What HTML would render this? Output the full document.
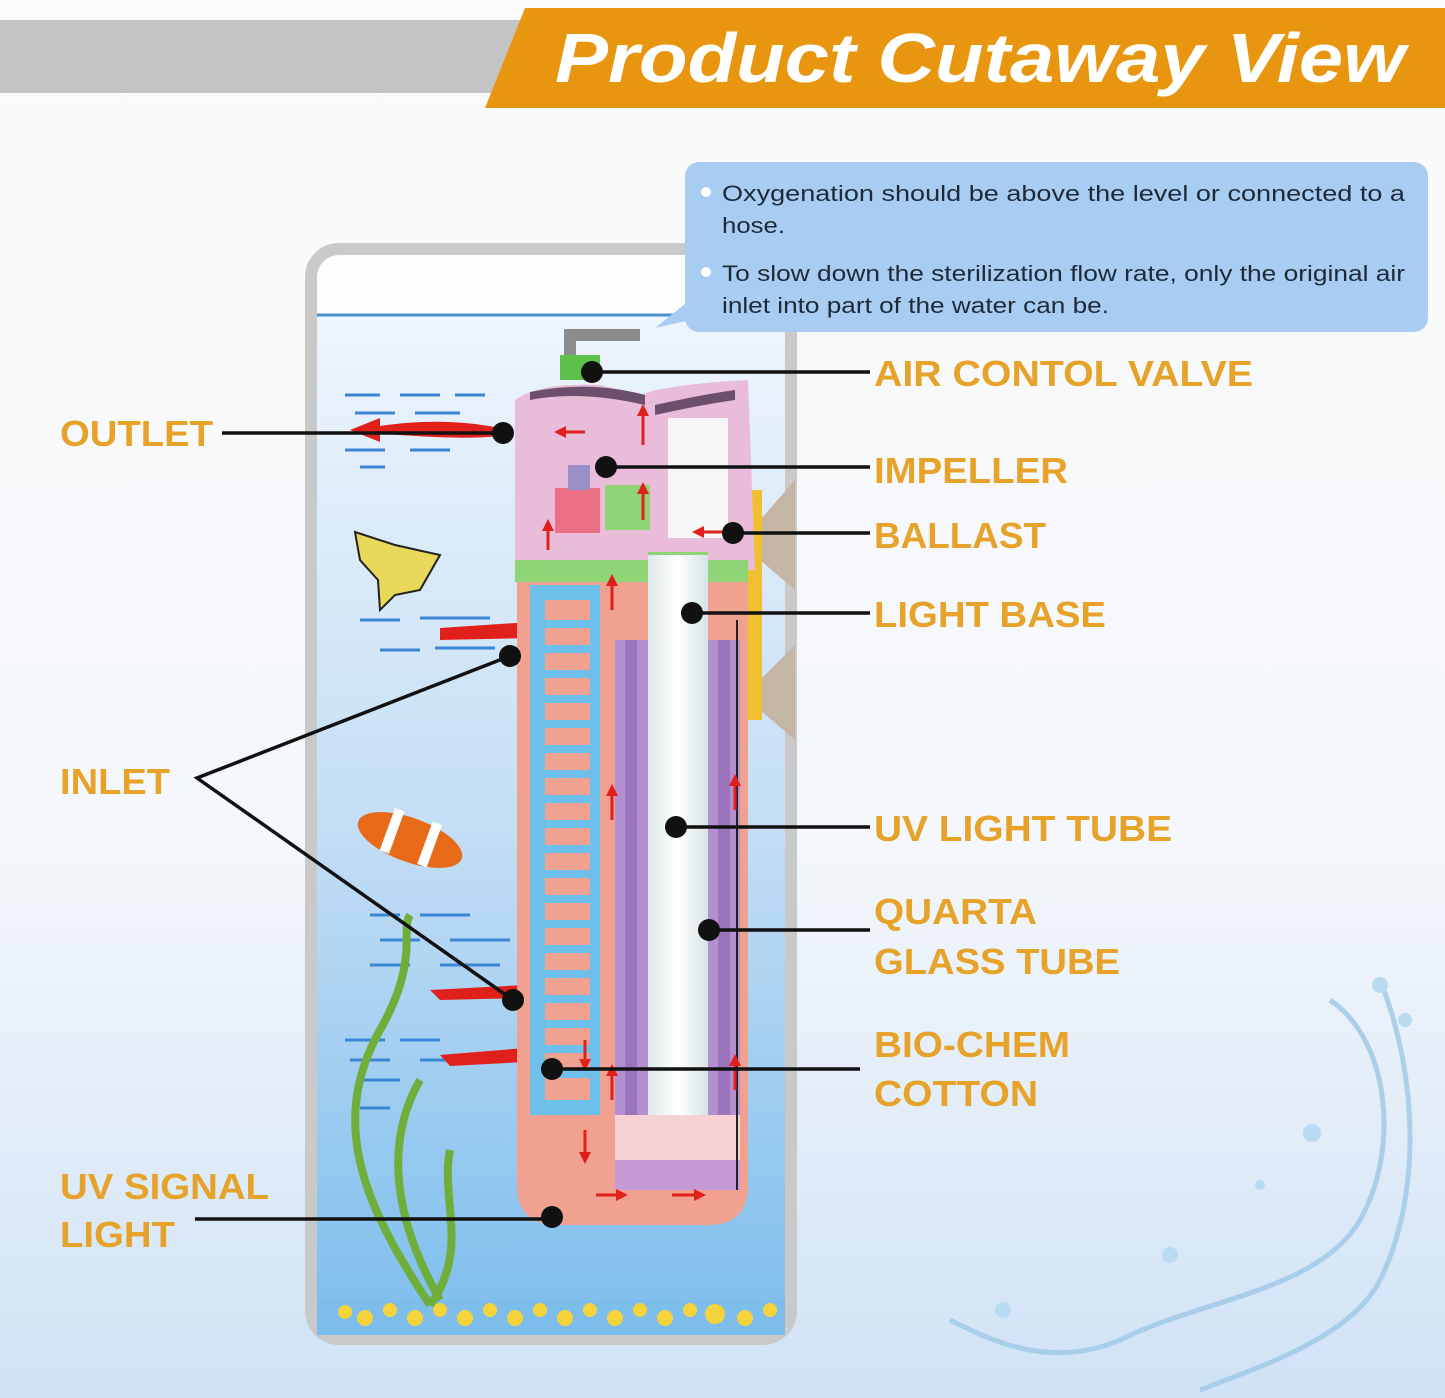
<!DOCTYPE html>
<html><head><meta charset="utf-8"><style>
html,body{margin:0;padding:0;width:1445px;height:1398px;overflow:hidden;background:#fafafa}
svg{display:block}
.lb{font-family:"Liberation Sans",sans-serif;font-weight:bold;font-size:36px;fill:#E6A229}
.ct{font-family:"Liberation Sans",sans-serif;font-size:22.5px;fill:#1e2a38}
</style></head><body>
<svg width="1445" height="1398" viewBox="0 0 1445 1398" xmlns="http://www.w3.org/2000/svg">
<defs>
<linearGradient id="bg" x1="0" y1="0" x2="0" y2="1">
<stop offset="0" stop-color="#fbfbfb"/><stop offset="0.6" stop-color="#f4f7fb"/><stop offset="1" stop-color="#cfe2f5"/></linearGradient>
<linearGradient id="wat" x1="0" y1="0" x2="0" y2="1">
<stop offset="0" stop-color="#eef5fc"/><stop offset="0.5" stop-color="#c4def5"/><stop offset="1" stop-color="#7cbdec"/></linearGradient>
<linearGradient id="uv" x1="0" y1="0" x2="1" y2="0">
<stop offset="0" stop-color="#dfe9ea"/><stop offset="0.5" stop-color="#ffffff"/><stop offset="1" stop-color="#d5e4e6"/></linearGradient>
<marker id="ar" viewBox="0 0 10 10" refX="5" refY="5" markerWidth="4" markerHeight="4" orient="auto"><path d="M0,0 L10,5 L0,10z" fill="#e0201a"/></marker>
</defs>
<rect width="1445" height="1398" fill="url(#bg)"/>
<rect x="0" y="20" width="520" height="73" fill="#c4c4c4"/>
<polygon points="525,8 1445,8 1445,108 485,108" fill="#E8960F"/>
<text x="555" y="82" font-family="Liberation Sans,sans-serif" font-weight="bold" font-style="italic" font-size="70" fill="#fff" textLength="850" lengthAdjust="spacingAndGlyphs">Product Cutaway View</text>
<rect x="311" y="249" width="480" height="1090" rx="28" fill="#fdfdfd" stroke="#c9c9c9" stroke-width="12"/>
<rect x="317" y="315" width="468" height="1018" fill="url(#wat)"/>
<line x1="317" y1="315" x2="785" y2="315" stroke="#4a8fd0" stroke-width="3"/>
<rect x="317" y="1300" width="468" height="35" fill="#7cbdec"/>
<g fill="#f4d43a">
<circle cx="345" cy="1312" r="7"/><circle cx="365" cy="1318" r="8"/><circle cx="390" cy="1310" r="7"/><circle cx="415" cy="1318" r="8"/><circle cx="440" cy="1310" r="7"/><circle cx="465" cy="1318" r="8"/><circle cx="490" cy="1310" r="7"/><circle cx="515" cy="1318" r="8"/><circle cx="540" cy="1310" r="7"/><circle cx="565" cy="1318" r="8"/><circle cx="590" cy="1310" r="7"/><circle cx="615" cy="1318" r="8"/><circle cx="640" cy="1310" r="7"/><circle cx="665" cy="1318" r="8"/><circle cx="690" cy="1310" r="7"/><circle cx="715" cy="1314" r="10"/><circle cx="745" cy="1318" r="8"/><circle cx="770" cy="1310" r="7"/>
</g>
<g stroke="#3a86d4" stroke-width="3">
<line x1="345" y1="395" x2="380" y2="395"/><line x1="400" y1="395" x2="440" y2="395"/><line x1="455" y1="395" x2="485" y2="395"/>
<line x1="355" y1="413" x2="395" y2="413"/><line x1="415" y1="413" x2="460" y2="413"/><line x1="345" y1="450" x2="385" y2="450"/><line x1="410" y1="450" x2="450" y2="450"/><line x1="360" y1="467" x2="385" y2="467"/>
<line x1="360" y1="620" x2="400" y2="620"/><line x1="420" y1="618" x2="490" y2="618"/><line x1="380" y1="650" x2="420" y2="650"/><line x1="435" y1="648" x2="495" y2="648"/>
<line x1="370" y1="915" x2="400" y2="915"/><line x1="420" y1="915" x2="470" y2="915"/><line x1="380" y1="940" x2="420" y2="940"/><line x1="450" y1="940" x2="510" y2="940"/><line x1="370" y1="965" x2="410" y2="965"/><line x1="440" y1="965" x2="500" y2="965"/>
<line x1="345" y1="1040" x2="385" y2="1040"/><line x1="400" y1="1040" x2="440" y2="1040"/><line x1="350" y1="1060" x2="390" y2="1060"/><line x1="420" y1="1060" x2="470" y2="1060"/><line x1="360" y1="1080" x2="400" y2="1080"/><line x1="360" y1="1108" x2="390" y2="1108"/>
</g>
<path d="M430,1305 C360,1200 330,1120 380,1030 C420,960 400,930 410,915 M440,1300 C400,1230 380,1150 420,1080 M430,1305 C470,1250 440,1200 450,1150" stroke="#6fae3a" stroke-width="8" fill="none"/>
<polygon points="355,532 395,545 440,555 420,590 395,595 380,610 378,580 360,560" fill="#e8d95a" stroke="#222" stroke-width="2"/>
<ellipse cx="410" cy="840" rx="55" ry="22" fill="#e76a18" transform="rotate(20 410 840)"/>
<rect x="385" y="815" width="10" height="45" fill="#fff" transform="rotate(20 410 840)"/>
<rect x="425" y="815" width="10" height="45" fill="#fff" transform="rotate(20 410 840)"/>
<g fill="#e0201a">
<path d="M500,428 C460,420 420,420 380,426 L380,418 L350,430 L380,442 L380,434 C420,436 460,440 500,436z"/>
<path d="M440,628 L530,622 L530,612 L555,630 L530,648 L530,638 L440,640z"/>
<path d="M430,990 L525,985 L525,975 L552,992 L525,1008 L525,998 L440,1000z"/>
<path d="M440,1055 L525,1048 L525,1038 L552,1055 L525,1072 L525,1062 L450,1066z"/>
</g>
<polygon points="795,480 760,520 760,560 795,590" fill="#c4b5a4"/>
<polygon points="795,645 760,680 760,710 795,740" fill="#c4b5a4"/>
<rect x="748" y="490" width="14" height="230" fill="#f0c030"/>
<path d="M517,570 L748,570 L748,1185 Q748,1225 708,1225 L557,1225 Q517,1225 517,1185z" fill="#f0a190"/>
<path d="M515,400 Q540,382 600,385 L640,395 L655,390 Q700,382 748,380 L755,570 L515,570z" fill="#e9bcd9"/>
<path d="M530,400 Q580,390 645,405 L645,395 Q590,380 530,392z" fill="#6b4f6c"/>
<path d="M655,405 Q700,395 735,390 L735,400 Q700,405 655,415z" fill="#6b4f6c"/>
<rect x="668" y="418" width="60" height="120" fill="#f6f6f6"/>
<rect x="555" y="488" width="45" height="45" fill="#ec6f88"/>
<rect x="568" y="465" width="22" height="25" fill="#9a90c8"/>
<rect x="605" y="485" width="45" height="45" fill="#8fd475"/>
<rect x="515" y="560" width="233" height="22" fill="#8fd475"/>
<rect x="648" y="552" width="60" height="30" fill="#8fd475"/>
<path d="M570,358 L570,335 L640,335" stroke="#8c8c8c" stroke-width="12" fill="none"/>
<rect x="560" y="355" width="40" height="25" fill="#5ec24a"/>
<rect x="530" y="585" width="70" height="530" fill="#6ec0ea"/>
<rect x="545" y="600" width="45" height="500" fill="#f0a190"/>
<g fill="#6ec0ea">
<rect x="545" y="620" width="45" height="8"/><rect x="545" y="645" width="45" height="8"/><rect x="545" y="670" width="45" height="8"/><rect x="545" y="695" width="45" height="8"/><rect x="545" y="720" width="45" height="8"/><rect x="545" y="745" width="45" height="8"/><rect x="545" y="770" width="45" height="8"/><rect x="545" y="795" width="45" height="8"/><rect x="545" y="820" width="45" height="8"/><rect x="545" y="845" width="45" height="8"/><rect x="545" y="870" width="45" height="8"/><rect x="545" y="895" width="45" height="8"/><rect x="545" y="920" width="45" height="8"/><rect x="545" y="945" width="45" height="8"/><rect x="545" y="970" width="45" height="8"/><rect x="545" y="995" width="45" height="8"/><rect x="545" y="1020" width="45" height="8"/><rect x="545" y="1045" width="45" height="8"/><rect x="545" y="1070" width="45" height="8"/>
</g>
<rect x="615" y="640" width="125" height="550" fill="#b48fcf"/>
<rect x="625" y="640" width="12" height="550" fill="#9c73bd"/>
<rect x="718" y="640" width="12" height="550" fill="#9c73bd"/>
<rect x="648" y="555" width="60" height="560" fill="url(#uv)"/>
<rect x="615" y="1115" width="125" height="45" fill="#f6d2d6"/>
<rect x="615" y="1160" width="125" height="30" fill="#c69ad6"/>
<line x1="737" y1="620" x2="737" y2="1190" stroke="#222" stroke-width="2"/>
<g stroke="#e0201a" stroke-width="3" marker-end="url(#ar)">
<line x1="585" y1="432" x2="560" y2="432"/><line x1="548" y1="550" x2="548" y2="525"/><line x1="643" y1="520" x2="643" y2="488"/><line x1="643" y1="445" x2="643" y2="410"/>
<line x1="725" y1="532" x2="698" y2="532"/><line x1="612" y1="610" x2="612" y2="580"/><line x1="612" y1="820" x2="612" y2="790"/><line x1="612" y1="1100" x2="612" y2="1070"/>
<line x1="735" y1="810" x2="735" y2="780"/><line x1="735" y1="1090" x2="735" y2="1060"/><line x1="585" y1="1040" x2="585" y2="1065"/><line x1="585" y1="1130" x2="585" y2="1158"/>
<line x1="596" y1="1195" x2="622" y2="1195"/><line x1="672" y1="1195" x2="700" y2="1195"/>
</g>
<polygon points="655,328 690,300 700,318" fill="#a9cdf2"/>
<rect x="685" y="162" width="743" height="170" rx="14" fill="#a9cdf2"/>
<circle cx="706" cy="192" r="5" fill="#fff"/><circle cx="706" cy="272" r="5" fill="#fff"/>
<text class="ct" x="722" y="201" textLength="683" lengthAdjust="spacingAndGlyphs">Oxygenation should be above the level or connected to a</text>
<text class="ct" x="722" y="233" textLength="63" lengthAdjust="spacingAndGlyphs">hose.</text>
<text class="ct" x="722" y="281" textLength="683" lengthAdjust="spacingAndGlyphs">To slow down the sterilization flow rate, only the original air</text>
<text class="ct" x="722" y="313" textLength="387" lengthAdjust="spacingAndGlyphs">inlet into part of the water can be.</text>
<g stroke="#111" stroke-width="3.5" fill="none">
<line x1="592" y1="372" x2="870" y2="372"/>
<line x1="222" y1="433" x2="503" y2="433"/>
<line x1="606" y1="467" x2="870" y2="467"/>
<line x1="733" y1="533" x2="870" y2="533"/>
<line x1="692" y1="613" x2="870" y2="613"/>
<polyline points="510,656 197,778 513,1000"/>
<line x1="676" y1="827" x2="870" y2="827"/>
<line x1="709" y1="930" x2="870" y2="930"/>
<line x1="552" y1="1069" x2="860" y2="1069"/>
<line x1="195" y1="1219" x2="552" y2="1219"/>
</g>
<g fill="#111">
<circle cx="592" cy="372" r="11"/><circle cx="503" cy="433" r="11"/><circle cx="606" cy="467" r="11"/><circle cx="733" cy="533" r="11"/><circle cx="692" cy="613" r="11"/><circle cx="510" cy="656" r="11"/><circle cx="513" cy="1000" r="11"/><circle cx="676" cy="827" r="11"/><circle cx="709" cy="930" r="11"/><circle cx="552" cy="1069" r="11"/><circle cx="552" cy="1217" r="11"/>
</g>
<g class="lb" font-family="Liberation Sans,sans-serif" font-weight="bold" font-size="36" fill="#E6A229" style="font-family:'Liberation Sans',sans-serif">
<text class="lb" x="874" y="386" textLength="379" lengthAdjust="spacingAndGlyphs">AIR CONTOL VALVE</text>
<text class="lb" x="60" y="446" textLength="153" lengthAdjust="spacingAndGlyphs">OUTLET</text>
<text class="lb" x="874" y="483" textLength="194" lengthAdjust="spacingAndGlyphs">IMPELLER</text>
<text class="lb" x="874" y="548" textLength="172" lengthAdjust="spacingAndGlyphs">BALLAST</text>
<text class="lb" x="874" y="627" textLength="232" lengthAdjust="spacingAndGlyphs">LIGHT BASE</text>
<text class="lb" x="60" y="794" textLength="110" lengthAdjust="spacingAndGlyphs">INLET</text>
<text class="lb" x="874" y="841" textLength="298" lengthAdjust="spacingAndGlyphs">UV LIGHT TUBE</text>
<text class="lb" x="874" y="924" textLength="163" lengthAdjust="spacingAndGlyphs">QUARTA</text>
<text class="lb" x="874" y="974" textLength="246" lengthAdjust="spacingAndGlyphs">GLASS TUBE</text>
<text class="lb" x="874" y="1057" textLength="196" lengthAdjust="spacingAndGlyphs">BIO-CHEM</text>
<text class="lb" x="874" y="1106" textLength="164" lengthAdjust="spacingAndGlyphs">COTTON</text>
<text class="lb" x="60" y="1199" textLength="209" lengthAdjust="spacingAndGlyphs">UV SIGNAL</text>
<text class="lb" x="60" y="1247" textLength="115" lengthAdjust="spacingAndGlyphs">LIGHT</text>
</g>
<g fill="none" stroke="#9ec8e6" stroke-width="5" opacity="0.8">
<path d="M1330,1000 C1390,1040 1400,1150 1360,1220 C1320,1290 1200,1300 1120,1340 C1050,1370 990,1340 950,1320"/>
<path d="M1380,980 C1420,1080 1420,1200 1380,1280 C1350,1340 1250,1370 1200,1390"/>
</g>
<g fill="#b9dbf2"><circle cx="1380" cy="985" r="8"/><circle cx="1405" cy="1020" r="7"/><circle cx="1312" cy="1133" r="9"/><circle cx="1170" cy="1255" r="8"/><circle cx="1003" cy="1310" r="8"/><circle cx="1260" cy="1185" r="5"/></g>
</svg>
</body></html>
